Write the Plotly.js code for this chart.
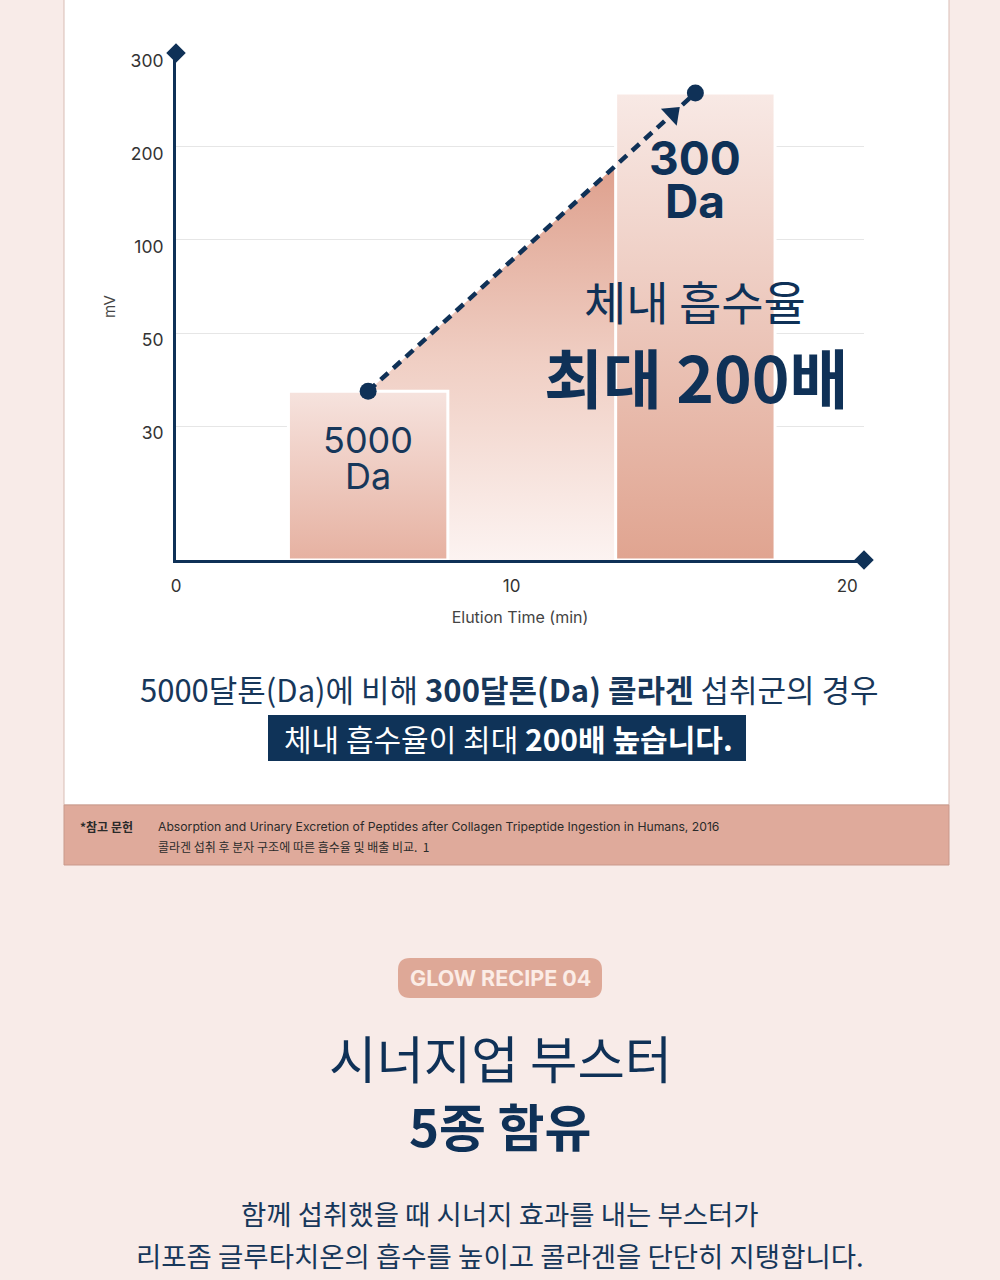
<!DOCTYPE html>
<html>
<head>
<meta charset="utf-8">
<script src="https://cdn.plot.ly/plotly-3.0.1.min.js"></script>
<style>
  html, body { margin: 0; padding: 0; background: #f8ebe8; }
  #chart { width: 1000px; height: 1280px; }
</style>
</head>
<body>
<div id="chart"></div>
<script>
// ---------- data ----------
const sampleNames   = ['5000 Da', '300 Da'];
const peakStart     = [3.35, 13.1];   // elution time (min) where each peak block starts
const peakEnd       = [8.1, 17.85];   // elution time (min) where each peak block ends
const peakMv        = [37.5, 258];    // signal (mV)
const yTickValues   = [30, 50, 100, 200, 300];
const yTickLabels   = ['30', '50', '100', '200', '300'];
const xTickValues   = [0, 10, 20];
const xTickLabels   = ['0', '10', '20'];

// ---------- helpers ----------
const W = 1000, H = 1280;
const PX = p => p / W;
const PY = p => 1 - p / H;
const NAVY = '#0f3157';
const TXT = '#17375a';
const KR = "'Noto Sans CJK KR', 'Noto Sans', sans-serif";
const LAT = "Inter, 'Noto Sans CJK KR', sans-serif";

// the y axis of the original is not linear: the listed ticks are evenly spaced,
// and below the first tick it runs linearly to zero.
const FIRST_LEVEL = 1.44;
function level(v) {
  if (v <= yTickValues[0]) return v / yTickValues[0] * FIRST_LEVEL;
  for (let i = 0; i < yTickValues.length - 1; i++) {
    const a = yTickValues[i], b = yTickValues[i + 1];
    if (v <= b) return FIRST_LEVEL + i + (v - a) / (b - a);
  }
  const n = yTickValues.length;
  return FIRST_LEVEL + (n - 1) + (v - yTickValues[n - 1]) / (yTickValues[n - 1] - yTickValues[n - 2]);
}
const yTop = 5.45, xEnd = 20.5;

const centers = peakStart.map((s, i) => (s + peakEnd[i]) / 2);
const lv = peakMv.map(level);
const lineAt = x => lv[0] + (lv[1] - lv[0]) * (x - centers[0]) / (centers[1] - centers[0]);

const traces = [];
// rising area between the peaks
traces.push({
  type: 'scatter', mode: 'lines', hoverinfo: 'skip', showlegend: false,
  x: [centers[0], peakStart[1], peakStart[1], centers[0], centers[0]],
  y: [lv[0], lineAt(peakStart[1]), 0, 0, lv[0]],
  fill: 'toself', line: { width: 0, color: 'rgba(0,0,0,0)' },
  fillgradient: { type: 'vertical', start: 0, stop: lineAt(peakStart[1]),
    colorscale: [[0, '#fcf3f1'], [0.5, '#f0cfc4'], [1, '#dea08d']] }
});
// peak blocks
const barScales = [
  [[0, '#e6b1a1'], [1, '#f6e3de']],
  [[0, '#e0a490'], [1, '#f8e9e5']]
];
peakStart.forEach((s, i) => {
  traces.push({
    type: 'scatter', mode: 'lines', name: sampleNames[i], showlegend: false, hoverinfo: 'skip',
    x: [s, s, peakEnd[i], peakEnd[i], s],
    y: [0, lv[i], lv[i], 0, 0],
    fill: 'toself', line: { width: 3, color: '#ffffff' },
    fillgradient: { type: 'vertical', start: 0, stop: lv[i], colorscale: barScales[i] }
  });
});
// dashed connector
traces.push({
  type: 'scatter', mode: 'lines', showlegend: false, hoverinfo: 'skip',
  x: centers, y: lv, line: { color: NAVY, width: 4.5, dash: '10px,7px' }
});
// arrow head
const t = 0.93;
traces.push({
  type: 'scatter', mode: 'markers', showlegend: false, hoverinfo: 'skip',
  x: [centers[0] + t * (centers[1] - centers[0])],
  y: [lv[0] + t * (lv[1] - lv[0])],
  marker: { symbol: 'triangle-up', size: 20, color: NAVY, angle: 47 }
});
// peak dots
traces.push({
  type: 'scatter', mode: 'markers', showlegend: false, name: 'peak',
  x: centers, y: lv, text: sampleNames,
  marker: { symbol: 'circle', size: 17, color: NAVY }
});
// axis end diamonds
traces.push({
  type: 'scatter', mode: 'markers', showlegend: false, hoverinfo: 'skip', cliponaxis: false,
  x: [0, xEnd], y: [yTop, 0],
  marker: { symbol: 'diamond', size: 15, color: NAVY }
});

// ---------- decorations ----------
function roundRect(x0, y0, x1, y1, r) {
  const p = (x, y) => PX(x) + ',' + PY(y);
  return 'M' + p(x0 + r, y0) + ' L' + p(x1 - r, y0) + ' Q' + p(x1, y0) + ' ' + p(x1, y0 + r) +
    ' L' + p(x1, y1 - r) + ' Q' + p(x1, y1) + ' ' + p(x1 - r, y1) +
    ' L' + p(x0 + r, y1) + ' Q' + p(x0, y1) + ' ' + p(x0, y1 - r) +
    ' L' + p(x0, y0 + r) + ' Q' + p(x0, y0) + ' ' + p(x0 + r, y0) + ' Z';
}
const shapes = [
  { type: 'rect', xref: 'paper', yref: 'paper', layer: 'below',
    x0: PX(64), x1: PX(949), y0: PY(-5), y1: PY(805),
    fillcolor: '#ffffff', line: { color: '#d9bdb5', width: 1 } },
  { type: 'rect', xref: 'paper', yref: 'paper', layer: 'below',
    x0: PX(64), x1: PX(949), y0: PY(805), y1: PY(865),
    fillcolor: '#dfaa9b', line: { color: '#c9998b', width: 1 } },
  { type: 'rect', xref: 'paper', yref: 'paper', layer: 'below',
    x0: PX(268), x1: PX(746), y0: PY(715), y1: PY(761),
    fillcolor: '#0f3358', line: { width: 0 } },
  { type: 'path', xref: 'paper', yref: 'paper', layer: 'below',
    path: roundRect(398, 958, 602, 998, 12),
    fillcolor: '#dea897', line: { width: 0 } }
];

function ann(text, x, y, size, color, opts) {
  return Object.assign({
    text: text, xref: 'paper', yref: 'paper', x: PX(x), y: PY(y),
    xanchor: 'center', yanchor: 'middle', showarrow: false,
    font: { family: KR, size: size, color: color }
  }, opts || {});
}

const annotations = [
  ann('5000', 0, 440, 36, TXT, { xref: 'x', x: centers[0], font: { family: LAT, size: 36, color: TXT } }),
  ann('Da', 0, 476, 36, TXT, { xref: 'x', x: centers[0], font: { family: LAT, size: 36, color: TXT } }),
  ann('<b>300</b>', 0, 158, 46, NAVY, { xref: 'x', x: centers[1], font: { family: LAT, size: 46, color: NAVY } }),
  ann('<b>Da</b>', 0, 201, 46, NAVY, { xref: 'x', x: centers[1], font: { family: LAT, size: 46, color: NAVY } }),
  ann('체내 흡수율', 695, 300, 46, NAVY),
  ann('<b>최대 200배</b>', 696, 375, 64, NAVY),

  ann('5000달톤(Da)에 비해 <b>300달톤(Da) 콜라겐</b> 섭취군의 경우', 509, 688, 31, TXT),
  ann('체내 흡수율이 최대 <b>200배 높습니다.</b>', 508, 738, 30, '#ffffff'),

  ann('<b>*참고 문헌</b>', 78, 826, 12, '#2a2a2a', { xanchor: 'left' }),
  ann('Absorption and Urinary Excretion of Peptides after Collagen Tripeptide Ingestion in Humans, 2016', 156, 826, 12.2, '#2a2a2a',
      { xanchor: 'left', font: { family: LAT, size: 12.2, color: '#2a2a2a' } }),
  ann('콜라겐 섭취 후 분자 구조에 따른 흡수율 및 배출 비교.  1', 156, 846, 12, '#2a2a2a', { xanchor: 'left' }),

  ann('<b>GLOW RECIPE 04</b>', 500, 978, 21.5, '#fbece6', { font: { family: LAT, size: 21.5, color: '#fbece6' } }),
  ann('시너지업 부스터', 500, 1056, 51.5, NAVY),
  ann('<b>5종 함유</b>', 500, 1125, 51, NAVY),
  ann('함께 섭취했을 때 시너지 효과를 내는 부스터가', 500, 1213, 27.5, TXT),
  ann('리포좀 글루타치온의 흡수를 높이고 콜라겐을 단단히 지탱합니다.', 500, 1255, 27.5, TXT)
];

const layout = {
  width: W, height: H,
  margin: { l: 0, r: 0, t: 0, b: 0 },
  paper_bgcolor: '#f8ebe8',
  plot_bgcolor: 'rgba(0,0,0,0)',
  showlegend: false,
  xaxis: {
    domain: [PX(176), PX(864)],
    range: [0, xEnd], tickmode: 'array', tickvals: xTickValues, ticktext: xTickLabels,
    showgrid: false, zeroline: false, showline: true, linecolor: NAVY, linewidth: 3,
    ticks: '', ticklabelstandoff: 9,
    tickfont: { family: LAT, size: 17, color: '#333333' },
    title: { text: 'Elution Time (min)', standoff: 17, font: { family: LAT, size: 16, color: '#444444' } },
    fixedrange: true
  },
  yaxis: {
    domain: [PY(560), PY(53)],
    range: [0, yTop], tickmode: 'array', tickvals: yTickValues.map(level), ticktext: yTickLabels,
    showgrid: true, gridcolor: '#e6e6e6', gridwidth: 1,
    zeroline: false, showline: true, linecolor: NAVY, linewidth: 3,
    ticks: '', ticklabelstandoff: 6, ticklabelshift: 7,
    tickfont: { family: LAT, size: 17.5, color: '#333333' },
    title: { text: 'mV', standoff: 12, font: { family: LAT, size: 15, color: '#444444' } },
    fixedrange: true
  },
  shapes: shapes,
  annotations: annotations
};

Plotly.newPlot('chart', traces, layout, { displayModeBar: false, staticPlot: true });
</script>
</body>
</html>
